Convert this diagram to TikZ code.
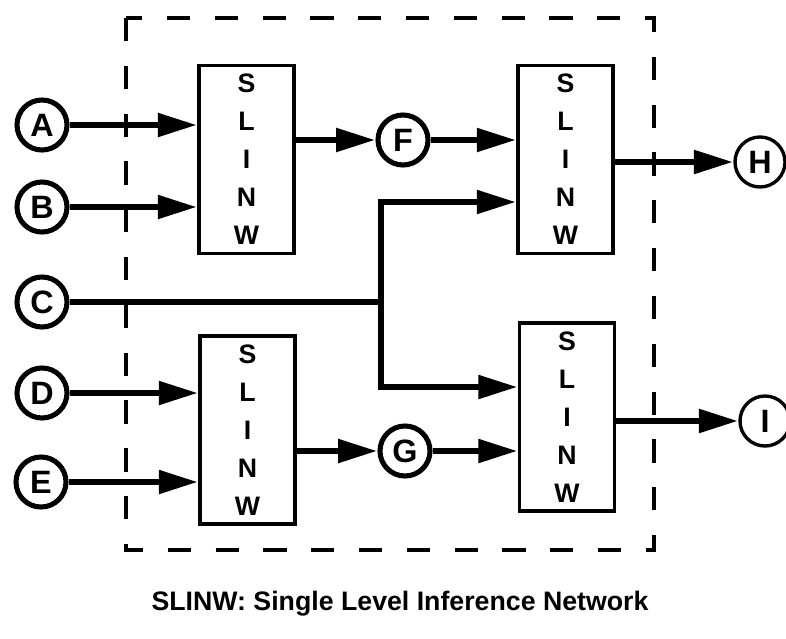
\documentclass[tikz,border=0pt]{standalone}
\usepackage{fontspec}
\setmainfont{Liberation Sans}
\usetikzlibrary{arrows.meta}

\begin{document}
\begin{tikzpicture}[
  x=0.025cm, y=-0.025cm,
  box/.style={rectangle, draw, line width=2.6pt, minimum width=2.375cm, minimum height=4.7cm,
    align=center, inner sep=0pt, font=\fontsize{19}{27}\selectfont\bfseries},
  var/.style={circle, draw, line width=3.6pt, minimum size=1.25cm, inner sep=0pt,
    font=\fontsize{23}{23}\selectfont\bfseries},
  outvar/.style={var, line width=2.4pt},
  wire/.style={line width=4.8pt},
  arrow/.style={wire, -{Triangle[length=28pt, width=16pt]}},
  frame/.style={draw, line width=2.6pt, dash pattern=on 16.5pt off 17.5pt},
]
\useasboundingbox (0,0) rectangle (786,638);

% network boundary
\draw[frame] (126,18) rectangle (654,550);

% === inference networks ===
\node[box] (n1) at (246.5,159.5) {S\\L\\I\\N\\W};
\node[box] (n2) at (565.5,159.5) {S\\L\\I\\N\\W};
\node[box] (n3) at (567,417) {S\\L\\I\\N\\W};
\node[box] (n4) at (247.5,430) {S\\L\\I\\N\\W};

% === variables ===
\node[var] (A) at (42,125) {A};
\node[var] (B) at (42,207) {B};
\node[var] (C) at (42,302) {C};
\node[var] (D) at (42,393) {D};
\node[var] (E) at (41,482) {E};
\node[var] (F) at (403,140) {F};
\node[var] (G) at (405,451) {G};
\node[outvar] (H) at (760,162) {H};
\node[outvar] (I) at (765,421) {I};

% === connections ===
\draw[arrow] (A) -- (A -| n1.west);
\draw[arrow] (B) -- (B -| n1.west);
\draw[arrow] (n1.east |- F) -- (F);
\draw[arrow] (F) -- (F -| n2.west);
\draw[arrow] (n2.east |- H) -- (H);

\coordinate (split) at (381,302);
\coordinate (up) at (381,202);
\coordinate (down) at (381,387);
\draw[wire] (C) -- (split);
\draw[arrow] (split) -- (up) -- (up -| n2.west);
\draw[arrow] (split) -- (down) -- (down -| n3.west);

\draw[arrow] (D) -- (D -| n4.west);
\draw[arrow] (E) -- (E -| n4.west);
\draw[arrow] (n4.east |- G) -- (G);
\draw[arrow] (G) -- (G -| n3.west);
\draw[arrow] (n3.east |- I) -- (I);

\node[font=\fontsize{19}{19}\selectfont\bfseries] (key) at (400,604) {SLINW: Single Level Inference Network};

\end{tikzpicture}
\end{document}
